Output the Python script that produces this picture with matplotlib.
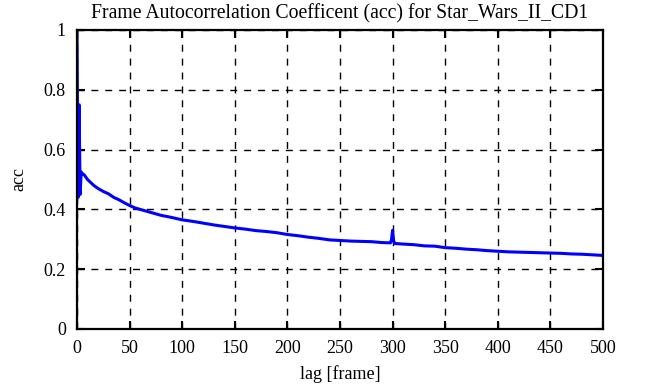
import matplotlib
matplotlib.use("Agg")
import matplotlib.pyplot as plt

# lag values
lags = [0, 1, 2, 3, 4, 5, 7, 10, 13, 16, 20, 25, 30, 35, 40, 45, 50, 55, 60,
        70, 80, 90, 100, 110, 120, 130, 140, 150, 160, 170, 180, 190, 200,
        210, 220, 230, 240, 250, 260, 270, 280, 290, 298, 299, 300, 301, 302,
        310, 320, 330, 340, 350, 360, 370, 380, 390, 400, 410, 420, 430, 440,
        450, 460, 470, 480, 490, 500]
acc = [1.0, 0.44, 0.75, 0.45, 0.525, 0.52, 0.515, 0.50, 0.49, 0.48, 0.47,
       0.46, 0.452, 0.44, 0.432, 0.422, 0.413, 0.405, 0.40,
       0.39, 0.38, 0.373, 0.365, 0.36, 0.354, 0.348, 0.343, 0.338, 0.334,
       0.329, 0.326, 0.322, 0.316,
       0.312, 0.307, 0.303, 0.298, 0.296, 0.294, 0.293, 0.292, 0.289, 0.288,
       0.30, 0.33, 0.295, 0.286,
       0.284, 0.282, 0.278, 0.277, 0.272, 0.270, 0.267, 0.265, 0.262, 0.260,
       0.258, 0.257, 0.256, 0.255,
       0.254, 0.253, 0.251, 0.250, 0.248, 0.246]

x_ticks = [0, 50, 100, 150, 200, 250, 300, 350, 400, 450, 500]
y_ticks = [0, 0.2, 0.4, 0.6, 0.8, 1]
y_tick_labels = ["0", "0.2", "0.4", "0.6", "0.8", "1"]

plt.rcParams["font.family"] = ["Liberation Serif", "DejaVu Serif"]
plt.rcParams["font.size"] = 13

fig = plt.figure(figsize=(6.48, 3.85), dpi=100)
ax = fig.add_axes([0.1188, 0.1455, 0.8118, 0.7766])

ax.plot(lags, acc, color="#0000ff", linewidth=2.2)

ax.set_xlim(0, 500)
ax.set_ylim(0, 1)
ax.set_xticks(x_ticks)
ax.set_yticks(y_ticks)
ax.set_yticklabels(y_tick_labels)
ax.grid(True, color="black", linestyle=(0, (5, 5)), linewidth=1)
ax.tick_params(direction="in", length=6, width=1.5, top=True, right=True, pad=8)
for sp in ax.spines.values():
    sp.set_linewidth(1.6)

ax.set_title("Frame Autocorrelation Coefficent (acc) for Star_Wars_II_CD1",
             fontsize=14.2, pad=8)
ax.set_xlabel("lag [frame]", labelpad=6)
ax.set_ylabel("acc", labelpad=12)

fig.savefig("out.png", dpi=100)
plt.close(fig)
